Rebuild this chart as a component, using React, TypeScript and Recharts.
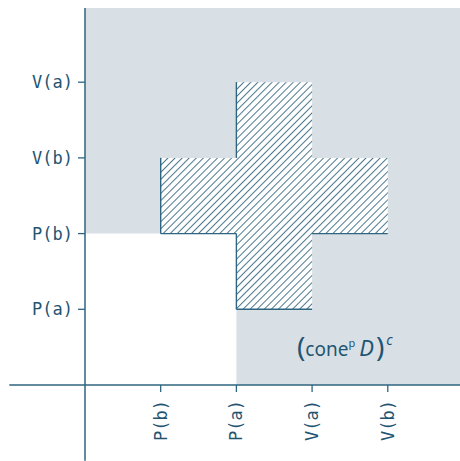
import { ComposedChart, XAxis, YAxis, ReferenceArea, ReferenceLine, ReferenceDot } from "recharts";

const xTicks = [1, 2, 3, 4];
const xLabels = ["P(b)", "P(a)", "V(a)", "V(b)"];
const yTicks = [1, 2, 3, 4];
const yLabels = ["P(a)", "P(b)", "V(b)", "V(a)"];

// complement region (L shape) as rectangles [x1, x2, y1, y2]
const shaded = [
  [0, 4.954, 2, 4.98],
  [2, 4.954, 0, 2.02],
];
// the cone itself: a cross of two rectangles
const cross = [
  [1, 4, 2, 3],
  [2, 3, 1, 4],
];
// outline drawn only on the lower / left sides
const crossEdges = [
  [2, 4, 2, 3],
  [1, 3, 1, 2],
  [2, 2, 2, 1],
  [1, 2, 2, 2],
  [3, 2, 4, 2],
  [2, 1, 3, 1],
];
const labelPos = { x: 2.8, y: 0.383 };

const INK = "#1f5572";
const LINE = "#2e6580";
const SHADE = "#d8e0e6";

const XTick = (props: any) => {
  const { x, y, payload } = props;
  const i = xTicks.indexOf(payload.value);
  return (
    <text
      x={x}
      y={y + 6}
      transform={`rotate(-90, ${x}, ${y + 6})`}
      textAnchor="end"
      dominantBaseline="central"
      fill={INK}
      fontSize={17}
      fontFamily="DejaVu Sans Mono"
    >
      {xLabels[i]}
    </text>
  );
};

const ConeLabel = (props: any) => {
  const { cx, cy } = props;
  return (
    <text x={cx} y={cy} fill={INK} fontFamily="Noto Sans">
      <tspan fontSize={28} dy={1}>(</tspan>
      <tspan fontSize={19} dy={-1}>cone</tspan>
      <tspan fontSize={11} dy={-9}>p</tspan>
      <tspan fontSize={22} fontStyle="italic" dy={9} dx={4}>D</tspan>
      <tspan fontSize={28} dx={2} dy={1}>)</tspan>
      <tspan fontSize={14} fontStyle="italic" dy={-12} dx={2}>c</tspan>
    </text>
  );
};

export default function App() {
  return (
    <div>
      <style>{`body{margin:0}`}</style>
      <ComposedChart width={460} height={461} margin={{ top: 8, right: 0, bottom: 0, left: 0 }} data={[]}>
        <defs>
          <pattern id="hatch" width={5} height={5} patternUnits="userSpaceOnUse" patternTransform="rotate(45)">
            <rect width={5} height={5} fill="#ffffff" />
            <line x1={0} y1={0} x2={0} y2={5} stroke={INK} strokeWidth={1.6} />
          </pattern>
        </defs>
        {shaded.map((r, i) => (
          <ReferenceArea key={"s" + i} x1={r[0]} x2={r[1]} y1={r[2]} y2={r[3]} fill={SHADE} fillOpacity={1} stroke="none" ifOverflow="visible" />
        ))}
        {cross.map((r, i) => (
          <ReferenceArea key={"c" + i} x1={r[0]} x2={r[1]} y1={r[2]} y2={r[3]} fill="url(#hatch)" fillOpacity={1} stroke="none" ifOverflow="visible" />
        ))}
        {crossEdges.map((e, i) => (
          <ReferenceLine
            key={"e" + i}
            segment={[{ x: e[0], y: e[1] }, { x: e[2], y: e[3] }]}
            stroke={LINE}
            strokeWidth={1.4}
            ifOverflow="visible"
          />
        ))}
        <ReferenceLine segment={[{ x: -1, y: 0 }, { x: 0, y: 0 }]} stroke={LINE} strokeWidth={1.5} ifOverflow="visible" />
        <ReferenceLine segment={[{ x: 0, y: 0 }, { x: 0, y: -1 }]} stroke={LINE} strokeWidth={1.5} ifOverflow="visible" />
        <ReferenceDot x={labelPos.x} y={labelPos.y} r={0} ifOverflow="visible" shape={ConeLabel} />
        <XAxis
          type="number"
          dataKey="x"
          domain={[0, 4.954]}
          ticks={xTicks}
          height={76}
          tickSize={7}
          tick={XTick}
          axisLine={{ stroke: LINE, strokeWidth: 1.5 }}
          tickLine={{ stroke: LINE, strokeWidth: 1.3 }}
          allowDataOverflow
        />
        <YAxis
          type="number"
          dataKey="y"
          domain={[0, 4.98]}
          ticks={yTicks}
          width={85}
          tickSize={7}
          tickMargin={5}
          tickFormatter={(v: number) => yLabels[yTicks.indexOf(v)]}
          tick={{ fill: INK, fontSize: 17, fontFamily: "DejaVu Sans Mono" }}
          axisLine={{ stroke: LINE, strokeWidth: 1.5 }}
          tickLine={{ stroke: LINE, strokeWidth: 1.3 }}
          allowDataOverflow
        />
      </ComposedChart>
    </div>
  );
}
